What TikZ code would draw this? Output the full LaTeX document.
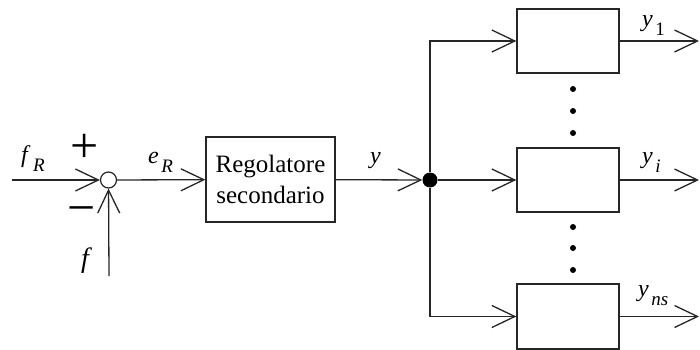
\documentclass[tikz,border=0pt]{standalone}
\usepackage{fontspec}
\setmainfont{Liberation Serif}
\usetikzlibrary{arrows.meta}
% italic symbol with a lowered subscript
\newcommand{\sym}[2]{\textit{#1}\hspace{2.5pt}\raisebox{-9pt}{\fontsize{19}{19}\selectfont #2}}
\begin{document}
\begin{tikzpicture}[x=1pt,y=-1pt,
  wire/.style={line width=1.3pt,draw=black!85},
  arr/.style={wire,-{Straight Barb[length=23pt,width=22pt,line width=1.3pt]}},
  blk/.style={draw=black!85,line width=1.3pt,minimum width=102pt,minimum height=64pt,inner sep=0pt},
  lbl/.style={anchor=base west,inner sep=0pt,font=\fontsize{24}{24}\selectfont},
  sign/.style={inner sep=0pt,font=\fontsize{50}{50}\selectfont},
  dotmark/.style={circle,fill=black,inner sep=0pt,minimum size=6pt}]
\useasboundingbox (0,0) rectangle (700,350);

% summing junction and its inputs
\node[circle,draw=black!85,line width=1.2pt,minimum size=16pt,inner sep=0pt] (sum) at (108.5,180) {};
\coordinate (in) at (12,180);
\coordinate (fin) at (109,276);
\node[sign] (plus) at (85,148) {+};
\node[sign] (minus) at (82,216) {−};

% controller
\node[draw=black!85,line width=1.3pt,minimum width=129pt,minimum height=85pt,inner sep=0pt,
      align=center,font=\fontsize{25}{31}\selectfont] (reg) at (270.5,179.5) {Regolatore\\secondario};

% branching point
\node[circle,fill=black,inner sep=0pt,minimum size=15pt] (jn) at (430,180) {};

% parallel blocks
\node[blk] (b1) at (568,41) {};
\node[blk] (b2) at (568,180) {};
\node[blk,minimum height=65pt] (b3) at (568,316.5) {};
\coordinate (o1) at (699,41);
\coordinate (o2) at (699,180);
\coordinate (o3) at (699,316.5);

% ellipsis dots between blocks
\foreach \yy [count=\k] in {89,111,133,227,248,270}
  \node[dotmark] (d\k) at (573,\yy) {};

% connections
\draw[arr] (in) -- (sum);
\draw[arr] (fin) -- (sum);
\draw[arr] (sum) -- (reg);
\draw[arr] (reg) -- (jn);
\draw[arr] (jn) |- (b1);
\draw[arr] (jn) -- (b2);
\draw[arr] (jn) |- (b3);
\draw[arr] (b1) -- (o1);
\draw[arr] (b2) -- (o2);
\draw[arr] (b3) -- (o3);

% signal labels
\node[lbl] (lfR) at (21,162) {\sym{f}{\textit{R}}};
\node[lbl] (lf) at (81,267) {\fontsize{28}{28}\selectfont\textit{f}};
\node[lbl] (leR) at (148,163) {\sym{e}{\textit{R}}};
\node[lbl] (ly) at (370,163) {\textit{y}};
\node[lbl] (ly1) at (642,27) {\sym{y}{1}};
\node[lbl] (lyi) at (642,163) {\sym{y}{\textit{i}}};
\node[lbl] (lyns) at (638,296) {\sym{y}{\textit{ns}}};
\end{tikzpicture}
\end{document}
